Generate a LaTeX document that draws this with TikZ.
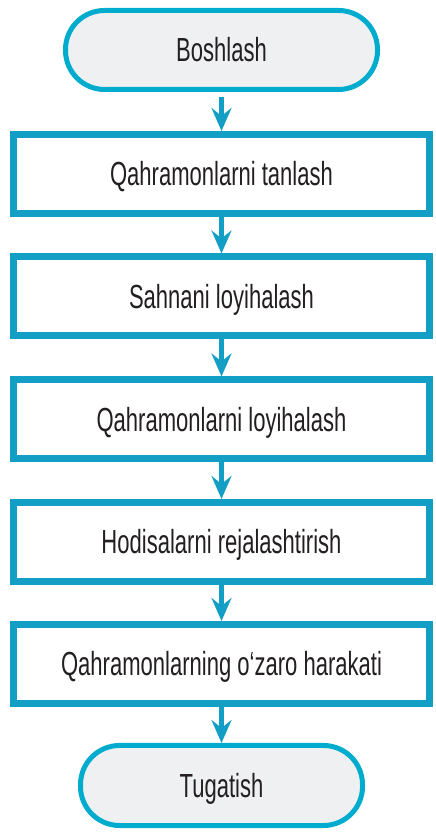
\documentclass[tikz,border=0pt]{standalone}
\usepackage{fontspec}
\setmainfont[FakeStretch=0.66]{Liberation Sans}
\usetikzlibrary{arrows.meta}

\definecolor{termblue}{RGB}{0,172,206}
\definecolor{boxblue}{RGB}{19,159,197}
\definecolor{termfill}{RGB}{238,240,242}
\definecolor{textgray}{RGB}{35,31,32}

\begin{document}
\begin{tikzpicture}[
    every node/.style={text=textgray,font=\fontsize{9.5pt}{9.5pt}\selectfont,inner sep=0,text height=0.24cm,text depth=0cm},
    terminal/.style={draw=termblue,line width=0.05cm,fill=termfill,rounded corners=0.39cm,minimum height=0.79cm},
    stepbox/.style={draw=boxblue,line width=0.07cm,fill=white,minimum width=4.16cm,minimum height=0.79cm},
    flow/.style={boxblue,line width=0.05cm,-{Stealth[length=0.23cm,width=0.2cm,inset=0.08cm]}}
]
            \useasboundingbox (0,0) rectangle (4.35,8.35);
            % start
            \node [terminal,minimum width=3.12cm] (start) at (2.215,7.85) {Boshlash};
            % steps
            \node [stepbox] (heroes) at (2.215,6.61) {Qahramonlarni tanlash};
            \node [stepbox] (scene) at (2.215,5.385) {Sahnani loyihalash};
            \node [stepbox] (design) at (2.215,4.155) {Qahramonlarni loyihalash};
            \node [stepbox] (events) at (2.215,2.93) {Hodisalarni rejalashtirish};
            \node [stepbox] (interact) at (2.215,1.71) {Qahramonlarning o‘zaro harakati};
            % end
            \node [terminal,minimum width=2.82cm,minimum height=0.8cm] (finish) at (2.215,0.495) {Tugatish};
            % arrows down
            \draw [flow,shorten <=0.05cm] (start) -- (heroes);
            \draw [flow] (heroes) -- (scene);
            \draw [flow] (scene) -- (design);
            \draw [flow] (design) -- (events);
            \draw [flow] (events) -- (interact);
            \draw [flow] (interact) -- (finish);
         \end{tikzpicture}
\end{document}
